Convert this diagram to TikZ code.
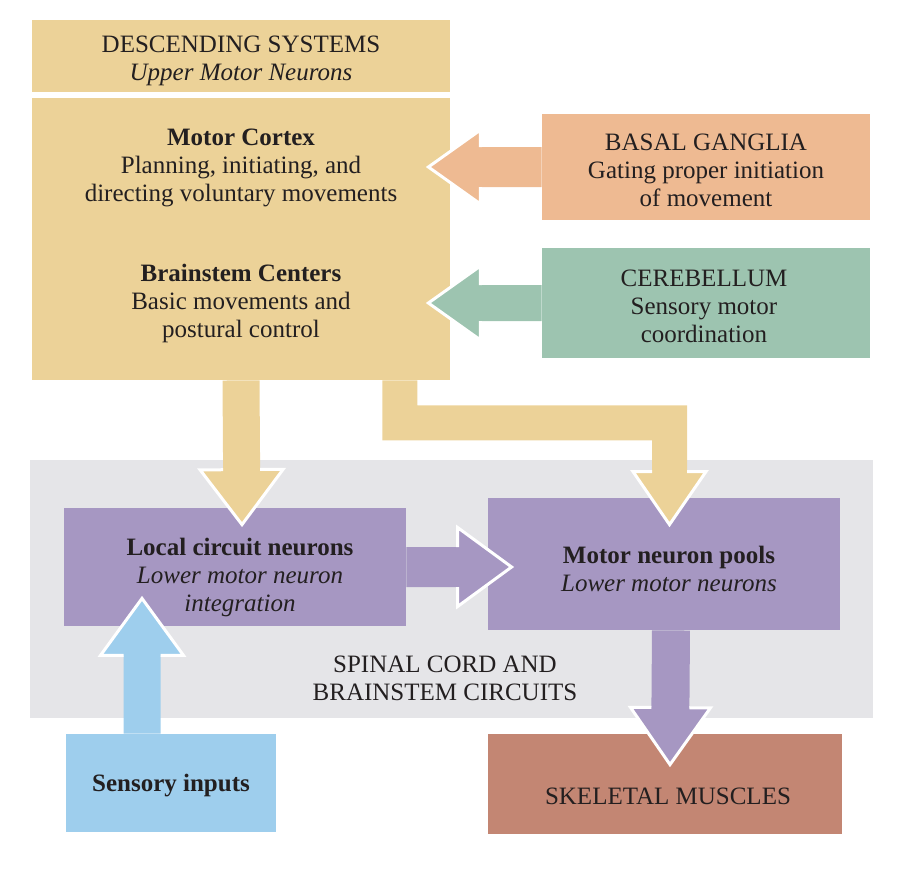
\documentclass[tikz,border=0pt]{standalone}
\usepackage{fontspec}
\setmainfont{Liberation Serif}
\usepackage{tikz}
\usetikzlibrary{positioning, calc}

\definecolor{tanc}{RGB}{236,210,152}
\definecolor{basalc}{RGB}{238,186,146}
\definecolor{cerebc}{RGB}{157,196,176}
\definecolor{spinalc}{RGB}{229,229,232}
\definecolor{purplec}{RGB}{166,151,194}
\definecolor{sensec}{RGB}{158,206,237}
\definecolor{musclec}{RGB}{195,134,115}
\definecolor{inkc}{RGB}{35,31,32}

\tikzset{
  box/.style={rectangle, inner sep=0pt},
  txt/.style={align=center, text=inkc, inner sep=0pt},
}

% block arrow: colour, start, tip, half shaft, half head, head length
\newcommand{\bigarrow}[6]{%
  \coordinate (hb) at ($(#3)!#6!(#2)$);
  \fill[#1] ($(#2)!#4!90:(#3)$) -- ($(hb)!#4!90:(#3)$) -- ($(hb)!#5!90:(#3)$) -- (#3)
    -- ($(hb)!#5!-90:(#3)$) -- ($(hb)!#4!-90:(#3)$) -- ($(#2)!#4!-90:(#3)$) -- cycle;
  \draw[white, line width=1.5pt] ($(hb)!#4!90:(#3)$) -- ($(hb)!#5!90:(#3)$) -- (#3)
    -- ($(hb)!#5!-90:(#3)$) -- ($(hb)!#4!-90:(#3)$);
}

\begin{document}
\begin{tikzpicture}[x=0.5pt, y=-0.5pt, font=\fontsize{12.5}{14}\selectfont]
\useasboundingbox (0,0) rectangle (902,884);

% Descending systems
\node[box, fill=tanc, minimum width=209pt, minimum height=36pt] (desc) at (241,56) {};
\node[txt] (desctext) at (241,61) {DESCENDING SYSTEMS\\\textit{Upper Motor Neurons}};
\node[box, fill=tanc, minimum width=209pt, minimum height=141pt] (cortex) at (241,239) {};
\node[txt] (mctext) at (241,168)
  {\textbf{Motor Cortex}\\Planning, initiating, and\\directing voluntary movements};
\node[txt] (bstext) at (241,303)
  {\textbf{Brainstem Centers}\\Basic movements and\\postural control};

% Modulators
\node[box, fill=basalc, minimum width=164pt, minimum height=53pt] (basal) at (706,167) {};
\node[txt] (bgtext) at (706,170) {BASAL GANGLIA\\Gating proper initiation\\of movement};
\node[box, fill=cerebc, minimum width=164pt, minimum height=55pt] (cereb) at (706,303) {};
\node[txt] (cbtext) at (704,306) {CEREBELLUM\\Sensory motor\\coordination};

% Spinal cord and brainstem circuits
\node[box, fill=spinalc, minimum width=421.5pt, minimum height=129pt] (spinal) at (451.5,589) {};
\node[txt] (sptext) at (445,678) {SPINAL CORD AND\\BRAINSTEM CIRCUITS};
\node[box, fill=purplec, minimum width=171pt, minimum height=59pt] (local) at (235,567) {};
\node[txt] (lctext) at (240,577)
  {\textbf{Local circuit neurons}\\\textit{Lower motor neuron}\\\textit{integration}};
\node[box, fill=purplec, minimum width=176pt, minimum height=66pt] (pools) at (664,564) {};
\node[txt] (mptext) at (669,569)
  {\textbf{Motor neuron pools}\\\textit{Lower motor neurons}};

% Inputs and outputs
\node[box, fill=sensec, minimum width=105pt, minimum height=49pt] (sensory) at (171,783) {};
\node[txt] (sitext) at (171,786) {\textbf{Sensory inputs}};
\node[box, fill=musclec, minimum width=177pt, minimum height=50pt] (muscles) at (665,784) {};
\node[txt] (mstext) at (668,796) {SKELETAL MUSCLES};

% Arrows
\bigarrow{basalc}{basal.west}{$(cortex.east |- basal.west)+(-22,0)$}{10pt}{18.5pt}{26pt}
\bigarrow{cerebc}{cereb.west}{$(cortex.east |- cereb.west)+(-22,0)$}{9pt}{18.5pt}{26pt}
\bigarrow{tanc}{cortex.south}{$(cortex.south |- local.north)+(1,17)$}{9.25pt}{20.75pt}{27.5pt}
\bigarrow{purplec}{local.east}{$(pools.west |- local.east)+(24,0)$}{10pt}{19.75pt}{27pt}
\bigarrow{sensec}{$(sensory.north)+(-29,0)$}{$(sensory.north |- local.south)+(-29,-28)$}{9.25pt}{20.75pt}{28.5pt}
\bigarrow{purplec}{$(pools.south)+(7,0)$}{$(pools.south |- muscles.north)+(6,31)$}{9.5pt}{20pt}{28.5pt}

% Bent arrow from brainstem to motor neuron pools
\coordinate (ba) at ($(cortex.south east)+(-68,0)$);
\coordinate (btip) at ($(pools.north)+(5.5,27)$);
\fill[tanc] (ba) -- ++(0,60) -| ($(btip)+(-17.5,-53)$) -- ++(-19,0) -- (btip)
  -- ($(btip)+(36.5,-53)$) -- ++(-19,0) |- ($(ba)+(35,25)$) -- ($(ba)+(35,0)$) -- cycle;
\draw[white, line width=1.5pt] ($(btip)+(-17.5,-53)$) -- ++(-19,0) -- (btip)
  -- ($(btip)+(36.5,-53)$) -- ++(-19,0);
\end{tikzpicture}
\end{document}
